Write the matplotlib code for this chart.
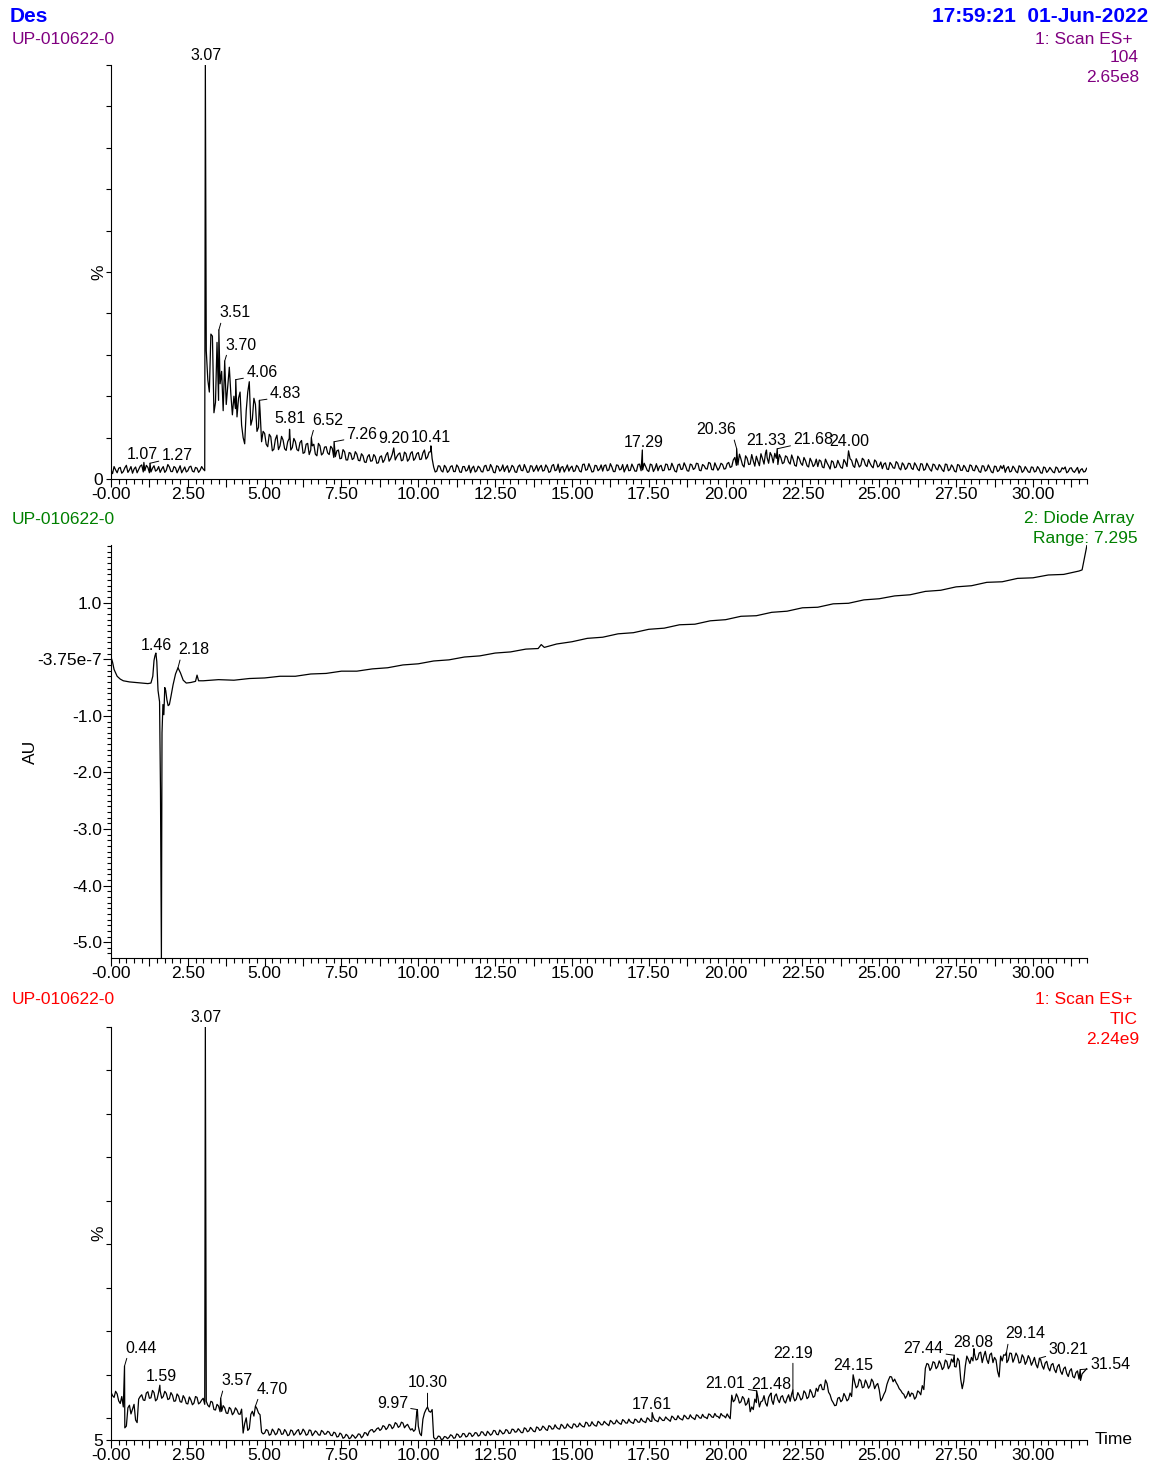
import numpy as np
import matplotlib.pyplot as plt
from matplotlib.ticker import MultipleLocator, FixedLocator, FuncFormatter

plt.rcParams['font.family'] = ['Liberation Sans', 'DejaVu Sans']
plt.rcParams['font.size'] = 12.5

# MS scan times (min): even scans every 0.1 min, odd scans in between
scan_t = np.round(np.arange(0, 31.75, 0.1), 1)
mid_t = np.round(scan_t + 0.05, 2)

# 1: Scan ES+ 104 (% of 2.65e8)
ms104 = [
    2.1, 3.0, 1.5, 2.8, 1.8, 3.3, 2.2, 1.4, 2.9, 2.3,
    3.4, 2.0, 2.8, 1.7, 3.2, 2.2, 1.6, 3.0, 2.1, 2.9,
    1.8, 2.7, 2.3, 1.5, 2.9, 2.0, 3.1, 1.7, 2.6, 2.1,
    2.4, 31.0, 21.0, 34.5, 18.5, 19.0, 26.0, 28.5, 22.5, 20.5,
    20.0, 15.0, 21.0, 10.0, 16.5, 23.5, 14.5, 18.0, 12.5, 9.0,
    11.0, 7.8, 10.2, 7.2, 10.6, 8.0, 9.4, 6.9, 9.8, 7.6,
    9.0, 6.8, 9.3, 6.4, 8.6, 7.0, 8.4, 5.6, 8.0, 6.2,
    7.8, 5.9, 7.4, 5.4, 7.0, 5.0, 6.6, 4.6, 6.2, 5.0,
    6.0, 4.4, 5.6, 4.0, 5.9, 4.4, 5.4, 3.9, 5.6, 4.6,
    6.4, 4.9, 6.9, 5.4, 6.3, 4.6, 6.1, 4.8, 6.6, 5.0,
    6.4, 4.8, 7.0, 5.3, 6.6, 2.9, 1.9, 3.1, 1.7, 2.8,
    2.0, 3.2, 1.8, 2.9, 1.6, 3.0, 2.2, 1.5, 3.1, 2.0,
    2.7, 1.7, 3.3, 2.1, 2.8, 1.5, 3.0, 2.3, 1.8, 3.2,
    2.2, 2.9, 1.6, 3.4, 2.0, 2.6, 1.7, 3.1, 2.4, 1.9,
    3.3, 2.1, 2.8, 1.8, 3.5, 2.2, 1.6, 3.0, 2.5, 1.9,
    3.1, 2.0, 2.9, 1.7, 3.6, 2.3, 2.8, 1.8, 3.2, 2.4,
    1.9, 3.4, 2.2, 2.9, 1.8, 3.3, 2.4, 1.7, 3.5, 2.1,
    2.8, 1.9, 3.6, 2.2, 3.0, 1.8, 3.4, 2.5, 2.0, 3.3,
    2.1, 3.5, 2.3, 2.9, 1.7, 3.6, 2.4, 3.1, 1.9, 3.4,
    2.6, 3.7, 2.0, 3.2, 2.4, 3.8, 2.2, 3.0, 2.7, 3.5,
    2.5, 4.0, 3.0, 5.2, 3.4, 4.8, 2.9, 5.0, 3.6, 4.4,
    5.5, 3.2, 4.9, 6.3, 3.8, 5.6, 6.2, 3.5, 5.1, 4.0,
    5.3, 3.6, 4.7, 3.1, 4.9, 3.3, 4.4, 2.9, 4.2, 3.5,
    3.0, 4.3, 2.7, 3.9, 2.4, 4.1, 2.9, 3.6, 2.6, 4.0,
    3.1, 4.5, 2.8, 4.0, 3.3, 4.6, 3.0, 3.8, 2.7, 4.2,
    3.2, 2.5, 3.9, 2.3, 3.5, 2.6, 3.8, 2.2, 3.4, 2.7,
    3.7, 2.3, 3.3, 2.0, 3.6, 2.4, 3.1, 1.9, 3.4, 2.2,
    3.0, 1.8, 3.5, 2.3, 2.9, 1.7, 3.3, 2.1, 2.8, 1.8,
    3.2, 2.0, 2.7, 1.6, 3.1, 2.2, 2.6, 1.5, 3.0, 2.1,
    2.5, 1.6, 3.0, 1.9, 2.6, 1.5, 2.9, 2.0, 2.4, 1.6,
    2.8, 1.9, 2.5, 1.4, 2.7, 2.0, 2.3, 1.5, 2.6, 1.8,
    2.4, 1.5, 2.6, 1.9, 2.2, 1.4, 2.5, 1.8,
]
ms104_mid = [
    1.3, 2.2, 2.6, 1.4, 2.7, 1.6, 3.0, 2.4, 1.5, 3.1,
    1.7, 3.3, 1.5, 2.6, 1.9, 3.0, 2.4, 1.6, 3.5, 1.8,
    3.0, 1.5, 3.2, 2.2, 1.7, 2.9, 1.9, 2.8, 1.6, 3.0,
    2.0, 24.0, 35.0, 16.0, 33.0, 23.0, 16.5, 18.0, 27.0, 15.5,
    17.0, 19.5, 13.0, 8.5, 21.0, 13.0, 19.5, 11.5, 16.5, 11.5,
    8.4, 10.8, 6.8, 9.6, 7.1, 10.3, 7.3, 9.0, 7.0, 9.8,
    7.1, 8.8, 6.2, 8.4, 5.9, 8.0, 6.0, 8.6, 5.8, 7.7,
    6.3, 7.9, 5.2, 6.8, 4.9, 7.1, 4.6, 6.4, 4.7, 6.6,
    4.5, 6.1, 4.1, 5.4, 4.3, 5.9, 3.8, 5.3, 4.0, 5.8,
    4.3, 5.9, 4.6, 6.0, 4.4, 6.5, 4.3, 6.2, 4.5, 6.1,
    4.7, 6.3, 4.8, 6.5, 4.9, 1.7, 3.2, 2.0, 3.3, 1.6,
    3.0, 1.8, 3.4, 1.7, 3.0, 1.9, 3.3, 2.6, 1.7, 3.1,
    1.8, 3.1, 2.0, 3.5, 1.6, 3.2, 1.9, 3.4, 2.7, 1.6,
    3.3, 1.7, 3.0, 2.1, 3.5, 1.6, 3.2, 1.8, 3.3, 2.8,
    1.9, 3.4, 1.6, 3.2, 2.0, 3.6, 2.8, 1.7, 3.4, 2.7,
    1.8, 3.3, 1.9, 3.5, 2.1, 3.7, 1.7, 3.3, 2.0, 3.4,
    3.2, 2.0, 3.7, 1.8, 3.4, 2.2, 3.5, 2.6, 2.0, 3.6,
    1.9, 3.5, 2.0, 3.8, 2.1, 3.6, 1.8, 3.7, 3.0, 2.0,
    3.6, 2.2, 3.8, 1.9, 3.4, 2.3, 3.9, 2.0, 3.6, 2.3,
    3.8, 2.1, 3.5, 2.5, 4.0, 2.3, 3.9, 2.1, 3.8, 2.4,
    3.7, 2.8, 4.6, 3.3, 6.0, 3.4, 5.6, 3.5, 5.9, 3.1,
    4.3, 6.1, 3.6, 5.2, 6.4, 3.9, 5.0, 5.9, 3.7, 5.6,
    4.1, 5.8, 3.3, 5.5, 3.8, 5.2, 3.2, 5.0, 3.0, 4.8,
    4.6, 2.9, 4.8, 3.2, 4.4, 2.7, 4.5, 2.8, 4.7, 3.0,
    4.9, 3.2, 4.9, 2.9, 5.0, 3.4, 4.7, 3.1, 4.6, 2.9,
    4.1, 3.6, 2.4, 4.0, 2.7, 4.2, 2.6, 3.9, 2.3, 3.8,
    2.6, 3.9, 2.4, 3.7, 2.1, 3.8, 2.3, 3.6, 2.5, 3.5,
    2.2, 3.6, 2.0, 3.4, 1.9, 3.5, 2.1, 3.3, 1.9, 3.4,
    2.1, 3.3, 1.8, 3.2, 1.9, 3.4, 1.7, 3.1, 1.8, 3.2,
    3.3, 2.6, 1.7, 3.1, 1.8, 3.2, 1.6, 3.0, 1.7, 2.9,
    1.7, 3.0, 1.5, 2.9, 1.6, 2.8, 1.7, 2.9, 1.6, 2.7,
    2.9, 1.8, 2.7, 1.6, 2.8, 2.2, 1.7, 2.6,
]
ms104_peak_rt = [1.07, 1.27, 3.07, 3.51, 3.70, 4.06, 4.83, 5.81, 6.52, 7.26,
                 9.20, 10.41, 17.29, 20.36, 21.33, 21.68, 24.00]
ms104_peak_h = [4.0, 3.8, 100.0, 36.0, 28.5, 24.0, 19.0, 12.0, 10.0, 9.0,
                7.5, 8.0, 7.0, 7.3, 7.0, 7.3, 6.8]

# 2: Diode Array (AU)
da_t = [0.00, 0.05, 0.10, 0.20, 0.30, 0.40, 0.60, 0.80, 1.00, 1.20,
        1.30, 1.36, 1.40, 1.43, 1.46, 1.49, 1.53, 1.58, 1.61, 1.635,
        1.66, 1.69, 1.72, 1.75, 1.78, 1.82, 1.86, 1.90, 1.95, 2.02,
        2.10, 2.18, 2.26, 2.35, 2.45, 2.60, 2.75, 2.80, 2.85, 3.00,
        3.5, 4.0, 4.5, 5.0, 5.5, 6.0, 6.5, 7.0, 7.5, 8.0,
        8.5, 9.0, 9.5, 10.0, 10.5, 11.0, 11.5, 12.0, 12.5, 13.0,
        13.5, 13.9, 14.0, 14.1, 14.5, 15.0, 15.5, 16.0, 16.5, 17.0,
        17.5, 18.0, 18.5, 19.0, 19.5, 20.0, 20.5, 21.0, 21.5, 22.0,
        22.5, 23.0, 23.5, 24.0, 24.5, 25.0, 25.5, 26.0, 26.5, 27.0,
        27.5, 28.0, 28.5, 29.0, 29.5, 30.0, 30.5, 31.0, 31.5, 31.6,
        31.76]
da_au = [0.04, -0.05, -0.18, -0.30, -0.35, -0.38, -0.40, -0.41, -0.42, -0.43,
         -0.42, -0.30, -0.02, 0.06, 0.11, -0.04, -0.55, -0.75, -2.30, -5.28,
         -1.30, -0.80, -0.98, -0.50, -0.55, -0.72, -0.82, -0.80, -0.66, -0.45,
         -0.26, -0.15, -0.24, -0.37, -0.42, -0.41, -0.39, -0.28, -0.38, -0.38,
         -0.36, -0.37, -0.34, -0.33, -0.30, -0.30, -0.26, -0.25, -0.21, -0.21,
         -0.17, -0.15, -0.10, -0.08, -0.03, -0.01, 0.04, 0.06, 0.11, 0.13,
         0.18, 0.19, 0.26, 0.21, 0.27, 0.31, 0.37, 0.39, 0.45, 0.47,
         0.53, 0.55, 0.61, 0.62, 0.68, 0.70, 0.76, 0.77, 0.83, 0.85,
         0.91, 0.92, 0.98, 0.99, 1.05, 1.07, 1.12, 1.14, 1.20, 1.22,
         1.28, 1.30, 1.36, 1.37, 1.43, 1.44, 1.49, 1.50, 1.56, 1.58,
         2.02]
da_peak_rt = [1.46, 2.18]
da_peak_h = [0.11, -0.15]

# 1: Scan ES+ TIC (% of 2.24e9)
tic = [
    16.0, 14.8, 15.6, 13.4, 12.6, 8.2, 13.0, 12.1, 9.6, 14.4,
    15.4, 14.1, 16.1, 14.7, 15.9, 14.4, 16.3, 15.0, 15.7, 14.5,
    15.3, 14.0, 15.1, 13.7, 14.6, 13.3, 14.2, 13.5, 14.8, 13.6,
    14.6, 13.9, 12.6, 13.7, 11.9, 12.8, 11.6, 12.4, 11.1, 12.1,
    11.3, 11.9, 10.9, 6.6, 10.1, 7.6, 11.6, 11.9, 11.2, 6.8,
    6.6, 7.2, 6.3, 7.0, 6.5, 7.3, 6.4, 6.9, 6.2, 7.1,
    6.5, 7.4, 6.6, 7.0, 6.3, 7.2, 6.5, 6.8, 6.1, 6.9,
    6.4, 6.8, 6.0, 6.6, 5.8, 6.3, 5.6, 6.0, 5.5, 5.9,
    5.8, 6.3, 5.9, 6.6, 6.9, 7.4, 7.1, 7.8, 7.5, 8.1,
    7.8, 8.4, 8.0, 8.7, 8.2, 8.9, 8.3, 7.9, 7.6, 7.4,
    8.2, 6.0, 11.2, 12.6, 11.4, 5.6, 5.3, 5.8, 5.2, 5.7,
    5.6, 6.0, 5.5, 6.2, 5.8, 6.4, 5.9, 6.5, 6.1, 6.6,
    6.1, 6.8, 6.0, 6.6, 6.4, 7.1, 6.2, 6.9, 6.6, 7.2,
    6.6, 7.4, 6.9, 7.2, 6.7, 7.6, 7.1, 7.5, 6.9, 7.8,
    7.4, 7.9, 7.2, 8.1, 7.6, 7.9, 7.5, 8.3, 7.8, 8.2,
    7.7, 8.6, 8.1, 8.4, 8.0, 8.9, 8.3, 8.6, 8.2, 9.0,
    8.5, 8.9, 8.3, 9.2, 8.8, 9.1, 8.6, 9.4, 8.9, 9.2,
    8.8, 9.6, 9.1, 9.4, 9.0, 9.8, 9.3, 9.6, 9.2, 9.9,
    9.5, 9.9, 9.3, 10.2, 9.7, 10.0, 9.6, 10.4, 9.9, 10.2,
    9.7, 10.6, 10.0, 10.3, 9.9, 10.8, 10.2, 10.5, 10.0, 10.6,
    10.1, 10.4, 15.3, 14.2, 14.8, 13.8, 14.5, 13.4, 11.5, 12.0,
    13.6, 12.6, 14.0, 13.5, 14.8, 14.2, 15.1, 14.3, 14.9, 14.0,
    14.6, 13.9, 15.0, 14.4, 15.2, 14.6, 15.8, 14.9, 15.9, 15.1,
    16.2, 17.8, 16.6, 18.0, 15.4, 13.6, 13.0, 14.8, 14.2, 15.0,
    14.4, 15.0, 18.3, 17.4, 18.6, 17.2, 18.0, 17.5, 18.4, 17.6,
    16.5, 14.6, 16.2, 18.8, 19.5, 19.0, 17.6, 16.4, 15.5, 15.2,
    15.0, 15.6, 14.9, 16.0, 17.5, 21.5, 22.4, 21.6, 22.8, 21.9,
    22.5, 21.7, 23.0, 22.1, 22.9, 21.8, 23.2, 16.8, 22.0, 23.5,
    24.0, 24.8, 23.6, 25.2, 24.3, 23.5, 24.6, 22.8, 23.4, 19.5,
    23.2, 24.5, 23.4, 24.9, 23.8, 24.3, 22.9, 24.0, 23.1, 23.7,
    23.0, 22.4, 23.2, 22.1, 22.7, 21.6, 22.3, 21.2, 21.9, 20.8,
    21.4, 20.3, 20.9, 19.6, 20.5, 19.0, 20.2, 21.0,
]
tic_mid = [
    15.2, 16.2, 14.0, 15.0, 7.8, 12.4, 11.0, 13.2, 9.0, 15.0,
    14.2, 15.8, 14.6, 16.4, 14.0, 16.0, 14.6, 16.2, 14.3, 15.9,
    13.9, 15.6, 13.8, 15.2, 13.4, 14.9, 13.1, 15.0, 13.3, 14.2,
    13.2, 13.0, 13.9, 12.0, 13.2, 11.5, 12.9, 11.2, 12.5, 10.8,
    12.4, 11.0, 12.1, 8.8, 7.2, 10.9, 10.5, 12.2, 10.8, 6.4,
    7.4, 6.1, 7.5, 6.2, 7.6, 6.3, 7.4, 6.0, 7.3, 6.1,
    7.1, 6.2, 7.5, 6.1, 7.3, 6.0, 7.1, 6.2, 7.2, 6.3,
    7.0, 6.1, 6.8, 5.7, 6.6, 5.4, 6.3, 5.3, 6.2, 5.4,
    6.4, 5.5, 6.7, 6.0, 7.3, 6.8, 7.6, 7.2, 8.3, 7.4,
    8.6, 7.6, 9.0, 7.9, 9.1, 7.8, 8.6, 7.3, 7.0, 11.4,
    6.5, 9.8, 12.0, 11.6, 12.0, 5.2, 5.9, 5.1, 5.8, 5.3,
    6.2, 5.4, 6.4, 5.6, 6.5, 5.7, 6.6, 5.8, 6.7, 5.9,
    6.9, 6.2, 7.0, 6.1, 7.2, 6.3, 7.3, 6.4, 7.4, 6.5,
    7.5, 6.8, 7.6, 6.7, 7.8, 6.9, 7.9, 7.0, 8.0, 7.2,
    8.2, 7.4, 8.3, 7.5, 8.5, 7.6, 8.6, 7.7, 8.7, 7.9,
    8.7, 8.0, 8.9, 8.1, 9.1, 8.2, 9.2, 8.3, 9.3, 8.5,
    9.3, 8.6, 9.5, 8.7, 9.6, 8.8, 9.7, 8.9, 9.8, 9.0,
    9.8, 9.1, 10.0, 9.2, 10.1, 9.3, 10.2, 9.4, 10.3, 9.5,
    10.3, 9.6, 10.5, 9.7, 10.6, 9.8, 10.7, 9.9, 10.8, 10.0,
    10.8, 10.1, 10.9, 10.2, 11.0, 10.3, 11.1, 10.4, 11.1, 10.5,
    11.0, 9.9, 13.8, 15.6, 13.5, 15.0, 13.0, 14.6, 12.6, 14.4,
    14.9, 13.8, 15.2, 12.8, 15.5, 13.2, 15.6, 13.6, 15.2, 13.5,
    15.4, 15.6, 14.0, 15.9, 14.2, 16.3, 14.5, 16.6, 14.8, 16.9,
    17.5, 16.6, 18.8, 16.0, 14.2, 12.9, 14.6, 13.8, 15.7, 14.0,
    15.8, 16.0, 17.0, 19.0, 17.0, 18.8, 16.9, 19.0, 16.8, 18.0,
    14.0, 15.5, 17.8, 19.6, 18.4, 18.2, 16.8, 15.8, 14.6, 16.2,
    15.8, 14.4, 16.3, 15.4, 16.6, 22.6, 21.0, 23.0, 21.4, 23.2,
    21.2, 23.4, 21.4, 23.6, 21.9, 23.8, 19.0, 18.5, 24.3, 22.6,
    23.2, 23.4, 25.0, 22.8, 25.4, 22.6, 25.0, 24.0, 20.8, 24.3,
    24.6, 22.8, 25.0, 22.9, 25.0, 22.7, 24.6, 22.4, 24.4, 22.2,
    24.0, 21.6, 23.5, 21.3, 23.1, 20.9, 22.6, 20.5, 22.4, 20.1,
    21.8, 19.6, 21.4, 19.3, 20.9, 18.7, 20.6, 21.4,
]
tic_peak_rt = [0.44, 1.59, 3.07, 3.57, 4.70, 9.97, 10.30, 17.61, 21.01, 21.48,
               22.19, 24.15, 27.44, 28.08, 29.14, 30.21, 31.54]
tic_peak_h = [22.0, 17.6, 100.0, 14.6, 12.8, 12.0, 12.6, 11.3, 16.3, 15.8,
              16.5, 20.0, 24.5, 26.0, 25.2, 23.8, 21.2]

# label offsets from the apex, in pixels (dx, dy up)
ms104_lbl = [(-2, 3), (27, 3.5), (1, 4.5), (16, 12.5), (16, 11.5), (26, 2.5),
             (26, 2), (0, 6), (16, 13), (28, 3), (0, 4.5), (0, 3.5), (1, 3.5),
             (-20, 14.5), (0, 5.5), (36, 4.5), (1, 4.5)]
da_lbl = [(1, 3), (16, 13.5)]
tic_lbl = [(16.5, 13.5), (1, 4.7), (1, 4.5), (16, 13), (17, 12.5), (-25, 2),
           (0, 19.5), (0, 4), (-31, 2.5), (0, 4.5), (0, 32.5), (0, 4.3),
           (-31, 2), (-1, 2), (18.5, 13.7), (29, 3.8), (30, 1)]

PURPLE, GREEN, RED, BLUE = '#800080', '#008000', '#ff0000', '#0000ff'
W, H = 1164, 1470
fig = plt.figure(figsize=(W / 100, H / 100), dpi=100)


def px_axes(left, top, right, bottom):
    return fig.add_axes([left / W, 1 - bottom / H, (right - left) / W, (bottom - top) / H])


def ftext(x, y, s, **kw):
    kw.setdefault('va', 'center')
    fig.text(x / W, 1 - y / H, s, **kw)


def merge(grid_t, grid_v, pk_t, pk_v):
    pts = {round(float(t), 2): v for t, v in zip(grid_t, grid_v)}
    pts.update({round(t, 2): v for t, v in zip(pk_t, pk_v)})
    t = sorted(pts)
    return np.array(t), np.array([pts[k] for k in t])


def time_label(x, pos):
    if abs(x / 2.5 - round(x / 2.5)) > 1e-6:
        return ''
    return '-0.00' if abs(x) < 1e-9 else f'{x:.2f}'


def style_axes(ax):
    for s in ('top', 'right'):
        ax.spines[s].set_visible(False)
    for s in ('left', 'bottom'):
        ax.spines[s].set_linewidth(0.8)
    ax.patch.set_visible(False)
    ax.set_xlim(0, 31.76)
    ax.xaxis.set_major_locator(MultipleLocator(1.25))
    ax.xaxis.set_minor_locator(MultipleLocator(0.25))
    ax.xaxis.set_major_formatter(FuncFormatter(time_label))
    ax.tick_params(axis='x', which='major', length=5.8, width=0.8, pad=0.3, labelsize=12.5)
    ax.tick_params(axis='x', which='minor', length=3.4, width=0.8)
    ax.tick_params(axis='y', which='major', length=3.6, width=0.8, pad=2, labelsize=12.5)


def label_peaks(ax, rts, heights, offsets):
    for rt, h, (dx, dy) in zip(rts, heights, offsets):
        arrow = None
        if abs(dx) > 4 or dy > 9:
            rel = (0.1, 0.2) if dx > 4 else (0.9, 0.2) if dx < -4 else (0.5, 0.2)
            arrow = dict(arrowstyle='-', lw=0.7, color='black',
                         shrinkA=0, shrinkB=0, relpos=rel)
        ax.annotate(f'{rt:.2f}', xy=(rt, h), xytext=(dx, dy),
                    textcoords='offset pixels', ha='center', va='baseline',
                    fontsize=11.5, arrowprops=arrow, annotation_clip=False)


# top: extracted ion 104
ax1 = px_axes(111, 65, 1087, 479)
style_axes(ax1)
t1, v1 = merge(np.concatenate([scan_t, mid_t]), ms104 + ms104_mid,
               ms104_peak_rt, ms104_peak_h)
ax1.plot(t1, v1, color='black', lw=0.9)
ax1.set_ylim(0, 100)
ax1.yaxis.set_major_locator(FixedLocator(list(range(0, 101, 10))))
ax1.yaxis.set_major_formatter(FuncFormatter(lambda v, p: '0' if v == 0 else ''))
label_peaks(ax1, ms104_peak_rt, ms104_peak_h, ms104_lbl)

# middle: diode array
ax2 = px_axes(111, 545, 1087, 958)
style_axes(ax2)
t2, v2 = merge(da_t, da_au, da_peak_rt, da_peak_h)
ax2.plot(t2, v2, color='black', lw=0.9)
ax2.set_ylim(-5.28, 2.02)
ax2.yaxis.set_major_locator(FixedLocator([-5, -4, -3, -2, -1, 0, 1]))
ax2.yaxis.set_minor_locator(MultipleLocator(0.1))
ax2.yaxis.set_major_formatter(FuncFormatter(lambda v, p: '-3.75e-7' if v == 0 else f'{v:.1f}'))
ax2.tick_params(axis='y', which='major', length=5.8, pad=0.5)
ax2.tick_params(axis='y', which='minor', length=3.0, width=0.8)
label_peaks(ax2, da_peak_rt, da_peak_h, da_lbl)

# bottom: TIC
ax3 = px_axes(111, 1027, 1087, 1440)
style_axes(ax3)
t3, v3 = merge(np.concatenate([scan_t, mid_t]), tic + tic_mid,
               tic_peak_rt, tic_peak_h)
ax3.plot(t3, v3, color='black', lw=0.9)
ax3.set_ylim(5, 100)
ax3.yaxis.set_major_locator(FixedLocator([5] + list(range(10, 101, 10))))
ax3.yaxis.set_major_formatter(FuncFormatter(lambda v, p: '5' if v == 5 else ''))
label_peaks(ax3, tic_peak_rt, tic_peak_h, tic_lbl)

# header and trace descriptions
ftext(10, 17, 'Des', color=BLUE, fontsize=15, fontweight='bold', ha='left')
ftext(1148, 17, '17:59:21  01-Jun-2022', color=BLUE, fontsize=15, fontweight='bold', ha='right')

ftext(12, 39, 'UP-010622-0', color=PURPLE, ha='left')
ftext(1133, 39, '1: Scan ES+', color=PURPLE, ha='right')
ftext(1139, 58, '104', color=PURPLE, ha='right')
ftext(1139, 78, '2.65e8', color=PURPLE, ha='right')

ftext(12, 519, 'UP-010622-0', color=GREEN, ha='left')
ftext(1134, 519, '2: Diode Array', color=GREEN, ha='right')
ftext(1138, 539, 'Range: 7.295', color=GREEN, ha='right')

ftext(12, 999, 'UP-010622-0', color=RED, ha='left')
ftext(1133, 999, '1: Scan ES+', color=RED, ha='right')
ftext(1138, 1019, 'TIC', color=RED, ha='right')
ftext(1139, 1039, '2.24e9', color=RED, ha='right')

ftext(99, 272, '%', rotation=90, ha='center')
ftext(99, 1233, '%', rotation=90, ha='center')
ftext(30, 752, 'AU', rotation=90, ha='center')
ftext(1095, 1440, 'Time', ha='left')

fig.savefig('out.png', dpi=100)
